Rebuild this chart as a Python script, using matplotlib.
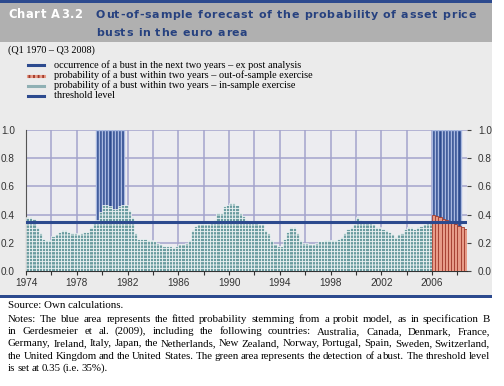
import numpy as np
import matplotlib
matplotlib.use('Agg')
import matplotlib.pyplot as plt
from matplotlib.patches import Rectangle

# ===== DATA =====
start_year = 1974
# in-sample fitted probability, quarterly 1974Q1 - 2005Q4
in_sample = [
    0.38, 0.38, 0.37, 0.31,  0.27, 0.23, 0.22, 0.22,  0.25, 0.26, 0.28, 0.29,
    0.29, 0.28, 0.27, 0.27,  0.26, 0.27, 0.28, 0.28,  0.31, 0.34, 0.36, 0.42,
    0.47, 0.47, 0.46, 0.44,  0.44, 0.46, 0.47, 0.47,  0.43, 0.38, 0.27, 0.23,
    0.23, 0.23, 0.22, 0.22,  0.21, 0.20, 0.19, 0.18,  0.18, 0.18, 0.17, 0.18,
    0.19, 0.19, 0.20, 0.22,  0.29, 0.32, 0.33, 0.33,  0.33, 0.33, 0.34, 0.36,
    0.41, 0.41, 0.46, 0.47,  0.48, 0.48, 0.47, 0.41,  0.39, 0.36, 0.35, 0.34,
    0.34, 0.33, 0.33, 0.29,  0.27, 0.22, 0.19, 0.18,  0.18, 0.23, 0.28, 0.31,
    0.31, 0.27, 0.22, 0.20,  0.20, 0.19, 0.19, 0.20,  0.21, 0.21, 0.22, 0.22,
    0.22, 0.22, 0.23, 0.24,  0.27, 0.30, 0.31, 0.33,  0.38, 0.36, 0.35, 0.34,
    0.34, 0.33, 0.31, 0.31,  0.30, 0.29, 0.28, 0.26,  0.24, 0.26, 0.27, 0.30,
    0.31, 0.31, 0.30, 0.31,  0.32, 0.33, 0.34, 0.34,
]
# out-of-sample forecast, quarterly 2006Q1 - 2008Q3
out_sample = [0.40, 0.39, 0.38, 0.37, 0.36, 0.35, 0.35, 0.33, 0.32, 0.31, 0.30]
# ex post bust occurrence: (first quarter, number of quarters)
bust_periods = [(1979.5, 9), (2006.0, 9)]
threshold = 0.35

yticks = [0.0, 0.2, 0.4, 0.6, 0.8, 1.0]
xlabels = list(range(1974, 2007, 4))

title_lines = ['Out-of-sample forecast of the probability of asset price',
               'busts in the euro area']
legend_labels = [
    'occurrence of a bust in the next two years \u2013 ex post analysis',
    'probability of a bust within two years \u2013 out-of-sample exercise',
    'probability of a bust within two years \u2013 in-sample exercise',
    'threshold level',
]
notes_lines = [
    'Notes: The blue area represents the fitted probability stemming from a probit model, as in specification B',
    'in Gerdesmeier et al. (2009), including the following countries: Australia, Canada, Denmark, France,',
    'Germany, Ireland, Italy, Japan, the Netherlands, New Zealand, Norway, Portugal, Spain, Sweden, Switzerland,',
    'the United Kingdom and the United States. The green area represents the detection of a bust. The threshold level',
    'is set at 0.35 (i.e. 35%).',
]

# ===== COLOURS =====
NAVY = '#2c4a8e'
PANEL = '#ebebeb'
HEADER = '#b0b0b0'
GRID = '#a4a4cc'
GREEN = '#6a9ca0'
RED = '#e79c88'
RED_EDGE = '#a23b2c'

W, H = 504, 386
fig = plt.figure(figsize=(W / 100, H / 100), dpi=100)
fig.patch.set_facecolor('white')
renderer = fig.canvas.get_renderer()

def px(x, y):
    return x / W, 1 - y / H

def tracked(text, x, y, track, **kw):
    # draw text char by char with extra spacing (letter tracking)
    for ch in text:
        t = fig.text(x / W, 1 - y / H, ch, va='center', ha='left', **kw)
        if ch == ' ':
            probe = fig.text(0, 0, 'a a', **kw)
            probe2 = fig.text(0, 0, 'aa', **kw)
            w = probe.get_window_extent(renderer).width - probe2.get_window_extent(renderer).width
            probe.remove(); probe2.remove()
        else:
            w = t.get_window_extent(renderer).width
        x += w + track

# panel backgrounds
fig.patches.append(Rectangle(px(0, 296), 492 / W, 254 / H, transform=fig.transFigure,
                             facecolor=PANEL, edgecolor='none', zorder=-5))
fig.patches.append(Rectangle(px(0, 42), 492 / W, 39 / H, transform=fig.transFigure,
                             facecolor=HEADER, edgecolor='none', zorder=-4))
fig.patches.append(Rectangle(px(0, 3), 492 / W, 3 / H, transform=fig.transFigure,
                             facecolor=NAVY, edgecolor='none', zorder=-4))
fig.patches.append(Rectangle(px(0, 297.5), 492 / W, 2.5 / H, transform=fig.transFigure,
                             facecolor=NAVY, edgecolor='none', zorder=-4))

# header text
tracked('Chart A3.2', 8, 15, 0.6, color='white', fontsize=8.3, fontweight='bold')
tracked(title_lines[0], 96, 15, 0.65, color='#26417f', fontsize=7.9, fontweight='bold')
tracked(title_lines[1], 96, 33, 0.65, color='#26417f', fontsize=7.9, fontweight='bold')
fig.text(*px(8, 50), '(Q1 1970 \u2013 Q3 2008)', fontsize=7.3, family='Liberation Serif',
         va='center', ha='left')

# legend
leg_y = [65, 75.5, 85.5, 95.5]
for i, (lab, yy) in enumerate(zip(legend_labels, leg_y)):
    x0, y0 = px(28, yy)
    x1, _ = px(44, yy)
    if i == 1:
        fig.add_artist(plt.Line2D([x0, x1], [y0, y0], color=RED, lw=2.2,
                                  transform=fig.transFigure))
        fig.add_artist(plt.Line2D([x0, x1], [y0, y0], color=RED_EDGE, lw=2.2,
                                  ls=(0, (0.6, 0.9)), transform=fig.transFigure))
    elif i == 2:
        fig.add_artist(plt.Line2D([x0, x1], [y0, y0], color='#8fb0b4', lw=2.2,
                                  transform=fig.transFigure))
    else:
        fig.add_artist(plt.Line2D([x0, x1], [y0, y0], color=NAVY, lw=2.2,
                                  transform=fig.transFigure))
    fig.text(*px(54, yy), lab, fontsize=7.4, family='Liberation Serif', va='center', ha='left')

# ===== CHART =====
ax = fig.add_axes([26 / W, 1 - 271 / H, 441 / W, 141 / H])
ax.set_facecolor('#ececf0')

plt.rcParams['hatch.linewidth'] = 0.6

for first, n in bust_periods:
    xs = first + 0.25 * np.arange(n) + 0.125
    ax.bar(xs, np.ones(n), width=0.25, color=NAVY, edgecolor='#a8b8e0', linewidth=1.0, zorder=2)

x_in = start_year + 0.25 * np.arange(len(in_sample)) + 0.125
ax.bar(x_in, in_sample, width=0.25, color=GREEN, edgecolor='white', linewidth=0.45,
       hatch='-----', zorder=3)
x_out = 2006 + 0.25 * np.arange(len(out_sample)) + 0.125
ax.bar(x_out, out_sample, width=0.25, color=RED, edgecolor=RED_EDGE, linewidth=0.6, zorder=3)

ax.axhline(threshold, color=NAVY, lw=2.2, zorder=4)

ax.set_xlim(1974, 2008.75)
ax.set_ylim(0, 1.0)
ax.set_yticks(yticks)
ax.set_yticklabels(['%.1f' % v for v in yticks])
ax.set_xticks(range(1974, 2009, 2))
ax.set_xticklabels([str(y) if y in xlabels else '' for y in range(1974, 2009, 2)])
ax.grid(True, color=GRID, lw=1.1, zorder=0)
ax.set_axisbelow(True)
ax.tick_params(axis='y', which='both', left=False, right=True, labelleft=True, labelright=True,
               length=3, color='#444444', labelsize=7.2, labelcolor='#333333', pad=5)
ax.tick_params(axis='x', length=3, direction='out', color='#333333', labelsize=7.2,
               labelcolor='#333333', pad=2)
for lab in ax.get_xticklabels() + ax.get_yticklabels():
    lab.set_family('Liberation Sans')
for s in ['top', 'right']:
    ax.spines[s].set_visible(False)
ax.spines['left'].set_color('#555555')
ax.spines['left'].set_linewidth(0.8)
ax.spines['bottom'].set_color('#333333')
ax.spines['bottom'].set_linewidth(0.8)

# ===== FOOTER =====
fig.text(*px(8, 306), 'Source: Own calculations.', fontsize=7.8, family='Liberation Serif',
         va='center', ha='left')

X0, X1 = 8, 490
for k, line in enumerate(notes_lines):
    yy = 319 + k * 12.4
    words = line.split()
    ts = [fig.text(0, 1 - yy / H, w, fontsize=7.8, family='Liberation Serif', va='center', ha='left')
          for w in words]
    ws = [t.get_window_extent(renderer).width for t in ts]
    if k == len(notes_lines) - 1:
        gap = 2.0
    else:
        gap = (X1 - X0 - sum(ws)) / (len(words) - 1)
    x = X0
    for t, w in zip(ts, ws):
        t.set_x(x / W)
        x += w + gap

fig.savefig('out.png', dpi=100)
